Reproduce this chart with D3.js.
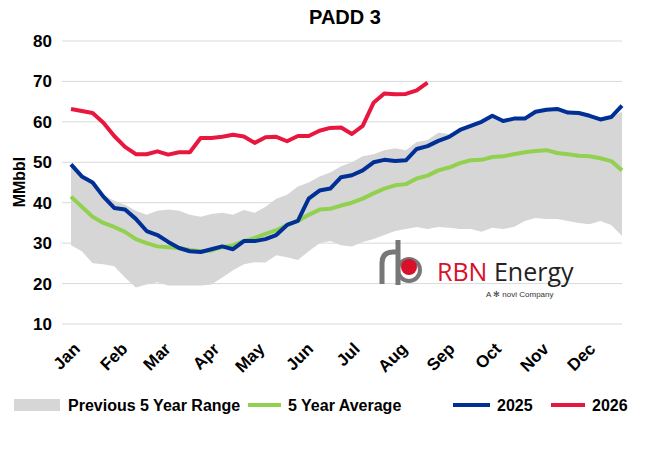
<!DOCTYPE html>
<html><head><meta charset="utf-8">
<script src="https://cdn.jsdelivr.net/npm/d3@7"></script>
<style>body{margin:0;background:#fff;font-family:Arial,"Liberation Sans",sans-serif}</style>
</head><body><div id="chart"></div>
<script>
const months = ["Jan","Feb","Mar","Apr","May","Jun","Jul","Aug","Sep","Oct","Nov","Dec"];
const monthWeeks = [0,4.4,8.4,12.9,17.1,21.6,25.9,30.3,34.7,39,43.4,47.7];
const yTicks = [10,20,30,40,50,60,70,80];
const rangeMax = [49,46,45,42,40.5,39.5,38,37,38,38.3,38,37,36.5,37.2,37.5,37,38.2,37.5,39,41,42,44,45,46.5,47.5,49,50,51.5,52,53,53.5,53,55,55.5,57.3,57,58,59,60,61.2,60.5,61,61,62.2,62.8,63,62.8,62,61.5,61,61,62.5];
const rangeMin = [29.5,28,25,24.8,24.3,21.5,19,19.8,20.3,19.5,19.5,19.5,19.5,19.8,21.5,23.3,24.8,25.3,25.2,27,26.5,25.8,28,30,30.5,29.5,29.2,30.3,31,32,33,33.5,34,33.5,34,33.8,33.5,33.5,32.8,33.8,33.5,34,35.5,36.2,36,36,35.5,35,34.7,35.5,34.5,31.8];
const avg5 = [41.5,39,36.5,35,34,32.8,31,30,29.2,29,28.8,28.3,28,28.2,29,29.5,30.5,31.3,32.3,33.2,34.5,35.5,37,38.3,38.5,39.3,40,41,42.3,43.5,44.3,44.6,46,46.7,48,48.7,49.8,50.5,50.6,51.3,51.5,52,52.5,52.8,53,52.3,52,51.6,51.5,51,50.3,48];
const y2025 = [49.5,46.5,45,41.5,38.7,38.3,36,33,32,30.3,28.8,28,27.8,28.5,29.2,28.5,30.5,30.5,31,32,34.5,35.5,41,43,43.5,46.3,46.8,48,50,50.6,50.3,50.5,53.3,54,55.3,56.3,58,59,60,61.5,60.2,60.8,60.8,62.5,63,63.2,62.3,62.2,61.5,60.6,61.2,64];
const y2026 = [63.2,62.7,62.2,59.8,56.5,53.8,52,52,52.7,51.9,52.5,52.5,56,56,56.3,56.8,56.4,54.8,56.2,56.3,55.2,56.5,56.5,57.8,58.5,58.6,57,59,64.7,67,66.8,66.9,67.8,69.7];

const W=650,H=449;
const svg=d3.select("#chart").append("svg").attr("width",W).attr("height",H);
const x=d3.scaleLinear().domain([0,51]).range([71,622]);
const y=d3.scaleLinear().domain([10,80]).range([324,41]);

svg.append("g").selectAll("line").data(yTicks).join("line")
  .attr("x1",62).attr("x2",622).attr("y1",d=>y(d)).attr("y2",d=>y(d))
  .attr("stroke","#d9d9d9").attr("stroke-width",1);
svg.append("g").selectAll("text").data(yTicks).join("text")
  .attr("x",52).attr("y",d=>y(d)+6).attr("text-anchor","end")
  .attr("font-size",17).attr("font-weight","bold").text(d=>d);

const idx=d3.range(52);
svg.append("path").datum(idx)
  .attr("d",d3.area().x(i=>x(i)).y0(i=>y(rangeMin[i])).y1(i=>y(rangeMax[i])))
  .attr("fill","#d6d6d6");

const line=d3.line().x((d,i)=>x(i)).y(d=>y(d));
[[avg5,"#92d050"],[y2025,"#002f96"],[y2026,"#e8173f"]].forEach(([d,c])=>{
  svg.append("path").datum(d).attr("d",line).attr("fill","none")
    .attr("stroke",c).attr("stroke-width",4).attr("stroke-linejoin","round");
});

svg.append("g").selectAll("text").data(months).join("text")
  .attr("transform",(d,i)=>`translate(${x(monthWeeks[i])+10},${350}) rotate(-45)`)
  .attr("text-anchor","end").attr("font-size",17).attr("font-weight","bold").text(d=>d);

svg.append("text").attr("x",345).attr("y",24).attr("text-anchor","middle")
  .attr("font-size",20).attr("font-weight","bold").text("PADD 3");
svg.append("text").attr("transform","translate(25,182) rotate(-90)").attr("text-anchor","middle")
  .attr("font-size",16).attr("font-weight","bold").text("MMbbl");

// logo
const lg=svg.append("g");
lg.append("path").attr("d","M382,284 L382,263 Q382,252 393,252 L398,252 M398,240 L398,285")
  .attr("fill","none").attr("stroke","#777").attr("stroke-width",5);
lg.append("circle").attr("cx",409).attr("cy",270).attr("r",11).attr("fill","none").attr("stroke","#777").attr("stroke-width",4);
lg.append("circle").attr("cx",409).attr("cy",267).attr("r",8).attr("fill","#d8102a");
const lt=lg.append("text").attr("x",437).attr("y",281).attr("font-size",25).attr("font-family","'Open Sans',Arial,sans-serif");
lt.append("tspan").attr("fill","#d8102a").text("RBN ");
lt.append("tspan").attr("fill","#222").text("Energy");
lg.append("text").attr("x",486).attr("y",297).attr("font-size",8).attr("fill","#333").text("A ✻ novi Company");

// legend
const leg=[["Previous 5 Year Range","rect","#d6d6d6",14,68],["5 Year Average","line","#92d050",248,288],["2025","line","#002f96",453,497],["2026","line","#e8173f",551,592]];
leg.forEach(([t,k,c,lx,tx])=>{
  if(k==="rect") svg.append("rect").attr("x",lx).attr("y",399).attr("width",46).attr("height",12).attr("fill",c);
  else svg.append("line").attr("x1",lx).attr("x2",tx-7).attr("y1",405).attr("y2",405).attr("stroke",c).attr("stroke-width",4);
  svg.append("text").attr("x",tx).attr("y",411).attr("font-size",16).attr("font-weight","bold").text(t);
});
</script></body></html>
